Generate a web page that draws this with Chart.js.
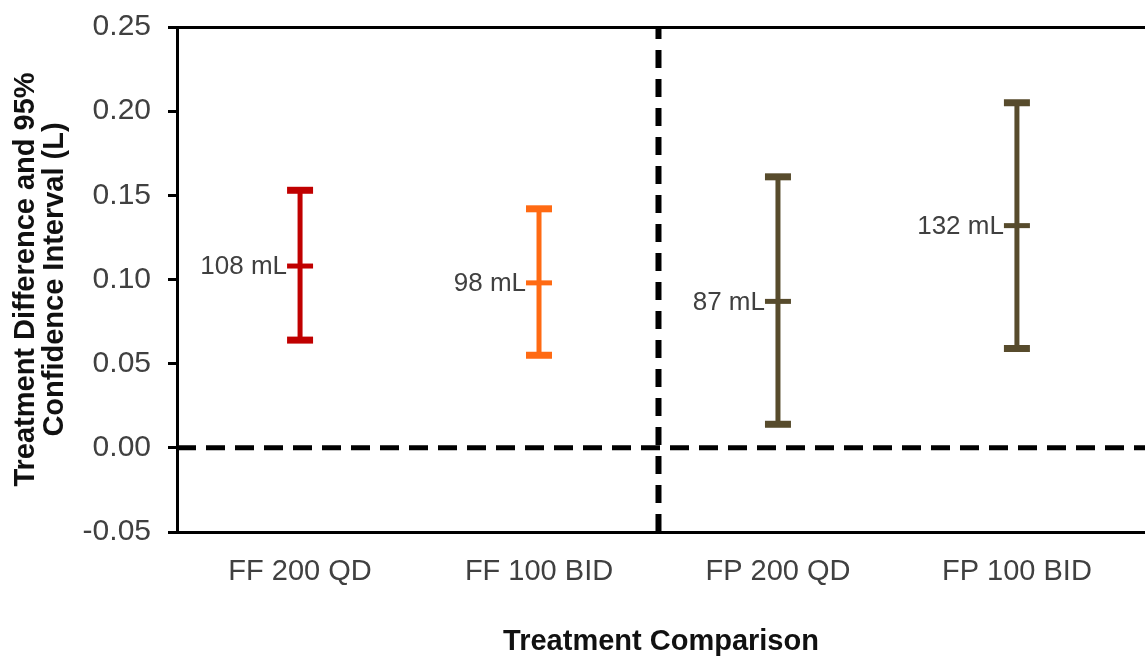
<!DOCTYPE html>
<html>
<head>
<meta charset="utf-8">
<script src="https://cdn.jsdelivr.net/npm/chart.js@4"></script>
<style>
  html, body { margin: 0; padding: 0; background: #fff; overflow: hidden; }
  canvas { display: block; }
</style>
</head>
<body>
<canvas id="ciChart" width="1145" height="656"></canvas>
<script>
// treatment differences (L) with 95% CI bounds
const comparisons = ["FF 200 QD", "FF 100 BID", "FP 200 QD", "FP 100 BID"];
const diffMean = [0.108, 0.098, 0.087, 0.132];
const ciLower = [0.064, 0.055, 0.014, 0.059];
const ciUpper = [0.153, 0.142, 0.161, 0.205];
const barColors = ["#c00000", "#ff6a13", "#574b2c", "#574b2c"];
const yTicks = [-0.05, 0, 0.05, 0.1, 0.15, 0.2, 0.25];
const xMin = -0.515;
const xMax = 3.536;
const refY = 0;        // no-difference line
const dividerX = 1.5;  // FF vs FP split

const FONT = '"Liberation Sans", Arial, sans-serif';

// one line dataset per comparison: lower cap, mean tick, upper cap
const ciSets = comparisons.map((name, i) => ({
  type: "line",
  label: name,
  data: [
    { x: i, y: ciLower[i] },
    { x: i, y: diffMean[i] },
    { x: i, y: ciUpper[i] },
  ],
  borderColor: barColors[i],
  borderWidth: 5,
  pointStyle: "line",
  pointRadius: 13,
  pointHoverRadius: 13,
  pointBorderWidth: [7, 5, 7],
  pointHoverBorderWidth: [7, 5, 7],
  pointBorderColor: barColors[i],
  pointBackgroundColor: barColors[i],
}));

const refLine = {
  type: "line",
  label: "zero",
  data: [{ x: xMin, y: refY }, { x: xMax, y: refY }],
  borderColor: "#000",
  borderWidth: 5,
  borderDash: [19, 10],
  pointRadius: 0,
};

const dividerLine = {
  type: "line",
  label: "divider",
  data: [{ x: dividerX, y: yTicks[0] }, { x: dividerX, y: yTicks[yTicks.length - 1] }],
  borderColor: "#000",
  borderWidth: 6,
  borderDash: [18, 11],
  pointRadius: 0,
};

// "108 mL" style labels left of each mean tick
const meanLabels = {
  id: "meanLabels",
  afterDatasetsDraw(chart) {
    const { ctx, scales: { x, y } } = chart;
    ctx.save();
    ctx.font = "26px " + FONT;
    ctx.fillStyle = "#404040";
    ctx.textAlign = "right";
    ctx.textBaseline = "middle";
    diffMean.forEach((m, i) => {
      ctx.fillText(Math.round(m * 1000) + " mL", x.getPixelForValue(i) - 13, y.getPixelForValue(m) + 1);
    });
    ctx.restore();
  },
};

let ctx = document.getElementById("ciChart").getContext("2d");

window.ciChart = new Chart(ctx, {
  type: "line",
  data: {
    datasets: [refLine, dividerLine, ...ciSets],
  },
  options: {
    responsive: false,
    animation: false,
    layout: {
      autoPadding: false,
      padding: { top: 27, right: 0, bottom: 0, left: 0 },
    },
    plugins: {
      legend: { display: false },
      tooltip: { enabled: false },
    },
    scales: {
      x: {
        type: "linear",
        min: xMin,
        max: xMax,
        afterBuildTicks: (axis) => {
          axis.ticks = comparisons.map((c, i) => ({ value: i }));
        },
        afterFit: (scale) => {
          scale.height = 124;
          scale.paddingLeft = 0;
          scale.paddingRight = 0;
        },
        grid: { display: false, drawTicks: false },
        border: { display: true, color: "#000", width: 3 },
        ticks: {
          callback: (v) => comparisons[v],
          color: "#404040",
          font: { family: FONT, size: 29 },
          padding: 23,
          maxRotation: 0,
        },
        title: {
          display: true,
          text: "Treatment Comparison",
          color: "#111",
          font: { family: FONT, size: 29, weight: "bold", lineHeight: 1.0 },
          padding: { top: 0, bottom: 0 },
        },
      },
      y: {
        min: yTicks[0],
        max: yTicks[yTicks.length - 1],
        afterBuildTicks: (axis) => {
          axis.ticks = yTicks.map((v) => ({ value: v }));
        },
        afterFit: (scale) => {
          scale.width = 177;
          scale.paddingTop = 0;
          scale.paddingBottom = 0;
        },
        grid: {
          drawOnChartArea: true,
          color: (c) => (c.tick && c.tick.value === 0.25 ? "#000" : "rgba(0,0,0,0)"),
          tickColor: "#000",
          tickLength: 9,
          lineWidth: 3,
        },
        border: { display: true, color: "#000", width: 3 },
        ticks: {
          callback: (v) => v.toFixed(2),
          color: "#404040",
          font: { family: FONT, size: 30 },
          padding: 17,
        },
        title: {
          display: true,
          text: ["Treatment Difference and 95%", "Confidence Interval (L)"],
          color: "#111",
          font: { family: FONT, size: 29, weight: "bold", lineHeight: 1.02 },
          padding: { top: 11, bottom: 0 },
        },
      },
    },
  },
  plugins: [meanLabels],
});
</script>
</body>
</html>
